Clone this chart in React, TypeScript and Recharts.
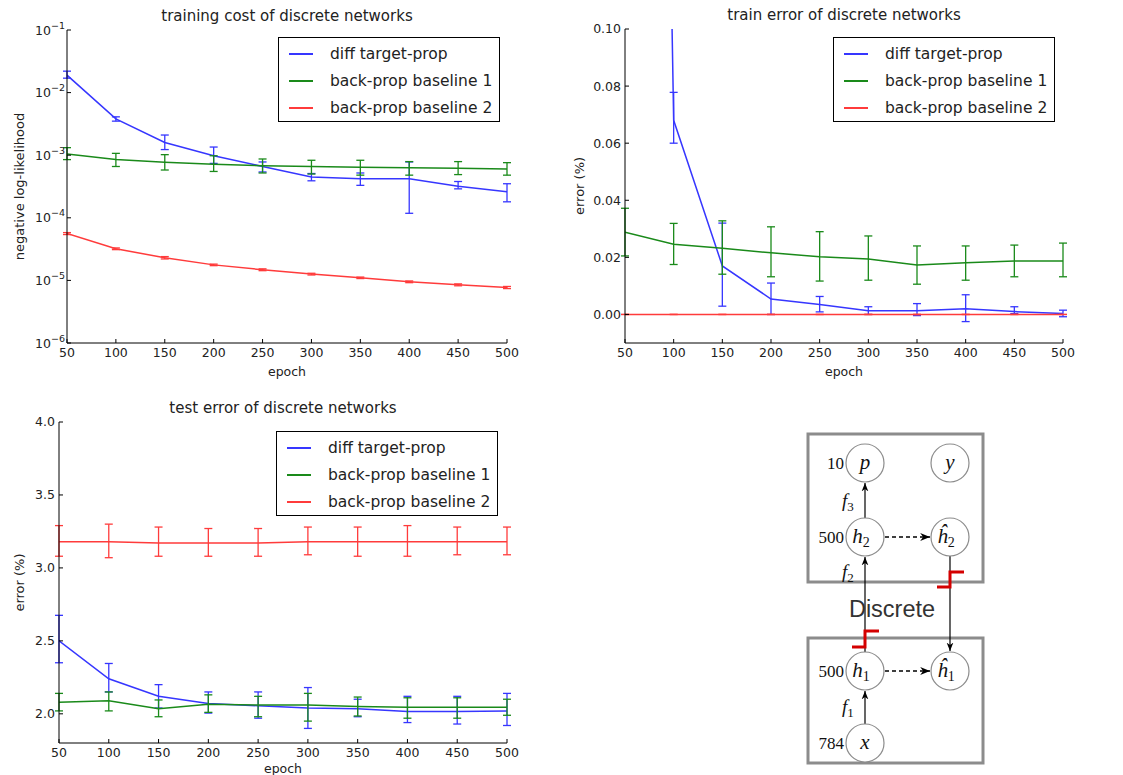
import { LineChart, Line, XAxis, YAxis, ErrorBar } from 'recharts'

const FONT = '"DejaVu Sans", sans-serif'

const epochs = [50, 100, 150, 200, 250, 300, 350, 400, 450, 500]
const seriesNames = ['diff target-prop', 'back-prop baseline 1', 'back-prop baseline 2']
const seriesColors = ['#3636ff', '#1a8a1a', '#ff3b3b']

// training cost (negative log-likelihood, log scale)
const costTarget = [0.019, 0.0038, 0.0016, 0.00098, 0.00066, 0.00045, 0.00042, 0.00042, 0.00032, 0.00026]
const costTargetLo = [0.017, 0.0035, 0.00123, 0.00074, 0.00054, 0.00039, 0.00033, 0.000118, 0.00029, 0.00018]
const costTargetHi = [0.022, 0.0041, 0.0021, 0.00135, 0.00078, 0.00051, 0.00052, 0.00078, 0.00038, 0.00035]
const costB1 = [0.00105, 0.00085, 0.00077, 0.00072, 0.00068, 0.00066, 0.00064, 0.00063, 0.00062, 0.0006]
const costB1Lo = [0.00085, 0.00066, 0.00058, 0.00055, 0.00052, 0.0005, 0.00048, 0.00048, 0.00049, 0.00048]
const costB1Hi = [0.00132, 0.00107, 0.00102, 0.00098, 0.00087, 0.00083, 0.00083, 0.00079, 0.00079, 0.00076]
const costB2 = [5.6e-5, 3.2e-5, 2.3e-5, 1.77e-5, 1.48e-5, 1.26e-5, 1.1e-5, 9.5e-6, 8.5e-6, 7.7e-6]
const costB2Lo = [5.4e-5, 3.1e-5, 2.2e-5, 1.72e-5, 1.43e-5, 1.22e-5, 1.07e-5, 9.2e-6, 8.2e-6, 7.4e-6]
const costB2Hi = [5.8e-5, 3.3e-5, 2.4e-5, 1.82e-5, 1.53e-5, 1.3e-5, 1.13e-5, 9.8e-6, 8.8e-6, 8.0e-6]
const costTicks = [1e-6, 1e-5, 1e-4, 1e-3, 1e-2, 1e-1]
const costMinorTicks = costTicks.slice(0, -1).flatMap((d) => [2, 3, 4, 5, 6, 7, 8, 9].map((m) => m * d))

// train error
const trainTarget = [1.05, 0.068, 0.017, 0.0054, 0.0035, 0.0013, 0.0013, 0.002, 0.001, 0.0003]
const trainTargetLo = [1.05, 0.06, 0.0029, 0.0, 0.0009, 0.0, -0.0004, -0.0025, 0.0003, -0.0008]
const trainTargetHi = [1.05, 0.0778, 0.032, 0.011, 0.0063, 0.0027, 0.0038, 0.0069, 0.0027, 0.0015]
const trainB1 = [0.0288, 0.0246, 0.0232, 0.0216, 0.0202, 0.0194, 0.0173, 0.0181, 0.0187, 0.0187]
const trainB1Lo = [0.0205, 0.0175, 0.0141, 0.0132, 0.0117, 0.012, 0.0106, 0.012, 0.0132, 0.0132]
const trainB1Hi = [0.0372, 0.0319, 0.0328, 0.0307, 0.029, 0.0275, 0.024, 0.024, 0.0243, 0.025]
const trainB2 = [0, 0, 0, 0, 0, 0, 0, 0, 0, 0]
const trainTicks = [0, 0.02, 0.04, 0.06, 0.08, 0.1]

// test error
const testTarget = [2.5, 2.24, 2.12, 2.07, 2.055, 2.04, 2.035, 2.016, 2.016, 2.02]
const testTargetLo = [2.35, 2.15, 2.04, 2.005, 1.97, 1.9, 1.98, 1.94, 1.93, 1.92]
const testTargetHi = [2.675, 2.345, 2.2, 2.15, 2.15, 2.18, 2.1, 2.12, 2.12, 2.14]
const testB1 = [2.08, 2.09, 2.035, 2.065, 2.06, 2.06, 2.05, 2.045, 2.045, 2.045]
const testB1Lo = [2.02, 2.02, 1.98, 2.01, 1.98, 1.95, 1.985, 1.97, 1.97, 1.99]
const testB1Hi = [2.14, 2.15, 2.095, 2.13, 2.12, 2.14, 2.115, 2.11, 2.11, 2.1]
const testB2 = [3.18, 3.18, 3.17, 3.17, 3.17, 3.18, 3.18, 3.18, 3.18, 3.18]
const testB2Lo = [3.08, 3.07, 3.08, 3.08, 3.08, 3.09, 3.08, 3.08, 3.09, 3.09]
const testB2Hi = [3.29, 3.3, 3.28, 3.27, 3.27, 3.28, 3.28, 3.29, 3.28, 3.28]
const testTicks = [2.0, 2.5, 3.0, 3.5, 4.0]

type Series = { values: number[]; lo: number[]; hi: number[] }

function buildRows(series: Series[]) {
  return epochs.map((epoch, i) => {
    const row: Record<string, any> = { epoch }
    series.forEach((s, k) => {
      row[`s${k}`] = s.values[i]
      row[`e${k}`] = [s.values[i] - s.lo[i], s.hi[i] - s.values[i]]
    })
    return row
  })
}

function LogTick(props: any) {
  const { x, y, payload } = props
  const exp = Math.round(Math.log10(payload.value))
  return (
    <text x={x} y={y + 4.5} textAnchor="end" fontSize={12.5} fill="#222" fontFamily={FONT}>
      10
      <tspan dy={-6} fontSize={9.5}>
        {exp < 0 ? '\u2212' + Math.abs(exp) : String(exp)}
      </tspan>
    </text>
  )
}

const Y_W = 70
const TOP = 34
const X_H = 40
const PAD = 12

interface PanelProps {
  plot: { x: number; y: number; w: number; h: number }
  title: string
  yLabel: string
  yLabelGap: number
  series: Series[]
  domain: [number, number]
  ticks: number[]
  log?: boolean
  fmt?: (v: number) => string
  tickGap: number
  legendInset: number
  xLabelOffset: number
}

function Panel(p: PanelProps) {
  const rows = buildRows(p.series)
  const W = p.plot.w + Y_W + PAD
  const H = p.plot.h + TOP + X_H + PAD
  const axisStroke = { stroke: '#000' }
  const tickStyle = { fontSize: 12.5, fill: '#222', fontFamily: FONT }
  return (
    <>
      <div
        style={{
          position: 'absolute',
          left: p.plot.x,
          top: p.plot.y - 23,
          width: p.plot.w,
          textAlign: 'center',
          fontFamily: FONT,
          fontSize: 15,
          lineHeight: '18px',
          color: '#222',
        }}
      >
        {p.title}
      </div>
      <div style={{ position: 'absolute', left: p.plot.x - Y_W, top: p.plot.y - TOP }}>
        <LineChart width={W} height={H} data={rows} margin={{ top: TOP, right: PAD, bottom: PAD, left: 0 }}>
          <XAxis
            xAxisId="b"
            dataKey="epoch"
            type="number"
            domain={[50, 500]}
            ticks={epochs}
            interval={0}
            allowDataOverflow
            height={X_H}
            tickSize={-4}
            tickMargin={9}
            axisLine={axisStroke}
            tickLine={axisStroke}
            tick={tickStyle}
            label={{
              value: 'epoch',
              position: 'insideTop',
              offset: p.xLabelOffset,
              style: { fontSize: 12.5, fill: '#222', fontFamily: FONT },
            }}
          />
          <XAxis
            xAxisId="t"
            orientation="top"
            dataKey="epoch"
            type="number"
            domain={[50, 500]}
            ticks={epochs}
            interval={0}
            allowDataOverflow
            height={0}
            tickSize={-4}
            tick={false}
            axisLine={axisStroke}
            tickLine={axisStroke}
          />
          {p.log && (
            <YAxis
              yAxisId="lm"
              type="number"
              scale="log"
              domain={p.domain}
              ticks={costMinorTicks}
              interval={0}
              allowDataOverflow
              width={0}
              tickSize={-2}
              tick={false}
              axisLine={false}
              tickLine={axisStroke}
            />
          )}
          <YAxis
            yAxisId="l"
            type="number"
            scale={p.log ? 'log' : 'linear'}
            domain={p.domain}
            ticks={p.ticks}
            interval={0}
            allowDataOverflow
            width={Y_W}
            tickSize={-4}
            tickMargin={p.tickGap}
            axisLine={axisStroke}
            tickLine={axisStroke}
            tick={p.log ? <LogTick /> : tickStyle}
            tickFormatter={p.fmt}
            label={{
              content: (lp: any) => {
                const vb = lp.viewBox
                const cx = vb.x + vb.width - p.yLabelGap
                const cy = vb.y + vb.height / 2
                return (
                  <text
                    x={cx}
                    y={cy}
                    transform={`rotate(-90 ${cx} ${cy})`}
                    textAnchor="middle"
                    dominantBaseline="central"
                    fontSize={13}
                    fill="#222"
                    fontFamily={FONT}
                  >
                    {p.yLabel}
                  </text>
                )
              },
            }}
          />
          {p.log && (
            <YAxis
              yAxisId="rm"
              orientation="right"
              type="number"
              scale="log"
              domain={p.domain}
              ticks={costMinorTicks}
              interval={0}
              allowDataOverflow
              width={0}
              tickSize={-2}
              tick={false}
              axisLine={false}
              tickLine={axisStroke}
            />
          )}
          <YAxis
            yAxisId="r"
            orientation="right"
            type="number"
            scale={p.log ? 'log' : 'linear'}
            domain={p.domain}
            ticks={p.ticks}
            interval={0}
            allowDataOverflow
            width={0}
            tickSize={-4}
            tick={false}
            axisLine={axisStroke}
            tickLine={axisStroke}
          />
          {p.series.map((s, k) => (
            <Line
              key={k}
              xAxisId="b"
              yAxisId="l"
              type="linear"
              dataKey={`s${k}`}
              name={seriesNames[k]}
              stroke={seriesColors[k]}
              strokeWidth={1.5}
              dot={false}
              activeDot={false}
              isAnimationActive={false}
            >
              <ErrorBar
                dataKey={`e${k}`}
                direction="y"
                width={4}
                stroke={seriesColors[k]}
                strokeWidth={1.3}
                isAnimationActive={false}
              />
            </Line>
          ))}
        </LineChart>
      </div>
      <div
        style={{
          position: 'absolute',
          left: p.plot.x + p.plot.w - p.legendInset - 222,
          top: p.plot.y + p.legendInset,
          width: 220,
          height: 83,
          border: '1px solid #000',
          background: '#fff',
          fontFamily: FONT,
          fontSize: 15.5,
          color: '#222',
        }}
      >
        {seriesNames.map((n, k) => (
          <div key={n} style={{ position: 'absolute', left: 0, top: 6 + k * 27, height: 20, width: 220 }}>
            <div
              style={{
                position: 'absolute',
                left: 10,
                top: 9,
                width: 24,
                height: 2,
                background: seriesColors[k],
              }}
            />
            <div style={{ position: 'absolute', left: 51, top: 0, lineHeight: '20px', whiteSpace: 'nowrap' }}>{n}</div>
          </div>
        ))}
      </div>
    </>
  )
}

function Diagram() {
  const serif = '"Liberation Serif", "DejaVu Serif", serif'
  const r = 19
  const nodes = [
    { cx: 85, cy: 43, t: 'p', s: '' },
    { cx: 170, cy: 43, t: 'y', s: '' },
    { cx: 85, cy: 117, t: 'h', s: '2' },
    { cx: 170, cy: 117, t: '\u0125', s: '2' },
    { cx: 85, cy: 251, t: 'h', s: '1' },
    { cx: 170, cy: 251, t: '\u0125', s: '1' },
    { cx: 85, cy: 323, t: 'x', s: '' },
  ]
  const sizes = [
    { y: 43, t: '10' },
    { y: 117, t: '500' },
    { y: 251, t: '500' },
    { y: 323, t: '784' },
  ]
  const fs = [
    { y: 82, s: '3' },
    { y: 153, s: '2' },
    { y: 288, s: '1' },
  ]
  return (
    <svg style={{ position: 'absolute', left: 780, top: 420 }} width={220} height={355}>
      <defs>
        <marker id="ah" viewBox="0 0 10 10" refX="10" refY="5" markerWidth="7" markerHeight="7" orient="auto">
          <path d="M0,1 L10,5 L0,9 L3,5 z" fill="#000" />
        </marker>
      </defs>
      <rect x={28} y={14} width={175} height={148} fill="none" stroke="#8c8c8c" strokeWidth={3} />
      <rect x={28} y={218} width={175} height={125} fill="none" stroke="#8c8c8c" strokeWidth={3} />
      <line x1={85} y1={98} x2={85} y2={63} stroke="#000" strokeWidth={1.2} markerEnd="url(#ah)" />
      <line x1={85} y1={232} x2={85} y2={137} stroke="#000" strokeWidth={1.2} markerEnd="url(#ah)" />
      <line x1={85} y1={304} x2={85} y2={271} stroke="#000" strokeWidth={1.2} markerEnd="url(#ah)" />
      <line x1={170} y1={136} x2={170} y2={231} stroke="#000" strokeWidth={1.2} markerEnd="url(#ah)" />
      <line x1={105} y1={117} x2={150} y2={117} stroke="#000" strokeWidth={1.4} strokeDasharray="4 3" markerEnd="url(#ah)" />
      <line x1={105} y1={251} x2={150} y2={251} stroke="#000" strokeWidth={1.4} strokeDasharray="4 3" markerEnd="url(#ah)" />
      <polyline points="72,227 85,227 85,211 99,211" fill="none" stroke="#d40000" strokeWidth={3} />
      <polyline points="157,167 170,167 170,152 184,152" fill="none" stroke="#d40000" strokeWidth={3} />
      {nodes.map((n, i) => (
        <g key={i}>
          <circle cx={n.cx} cy={n.cy} r={r} fill="#fff" stroke="#8c8c8c" strokeWidth={1.2} />
          <text
            x={n.s ? n.cx - 4 : n.cx}
            y={n.cy + 6}
            textAnchor="middle"
            fontFamily={serif}
            fontStyle="italic"
            fontSize={21}
            fill="#111"
          >
            {n.t}
            {n.s && (
              <tspan dy={4} fontSize={14} fontStyle="normal">
                {n.s}
              </tspan>
            )}
          </text>
        </g>
      ))}
      {sizes.map((s, i) => (
        <text key={i} x={64} y={s.y + 6} textAnchor="end" fontFamily={serif} fontSize={17} fill="#111">
          {s.t}
        </text>
      ))}
      {fs.map((f, i) => (
        <text key={i} x={62} y={f.y + 5} fontFamily={serif} fontStyle="italic" fontSize={19} fill="#111">
          f
          <tspan dy={4} fontSize={13} fontStyle="normal">
            {f.s}
          </tspan>
        </text>
      ))}
      <text
        x={112}
        y={197}
        textAnchor="middle"
        fontFamily='"Liberation Sans", Lato, sans-serif'
        fontSize={23.5}
        fontWeight={300}
        fill="#333"
      >
        Discrete
      </text>
    </svg>
  )
}

export default function App() {
  return (
    <div
      style={{
        position: 'absolute',
        left: 0,
        top: 0,
        width: 1123,
        height: 775,
        overflow: 'hidden',
        background: '#fff',
      }}
    >
      <Panel
        plot={{ x: 67, y: 30, w: 440, h: 313 }}
        title="training cost of discrete networks"
        yLabel="negative log-likelihood"
        yLabelGap={48}
        series={[
          { values: costTarget, lo: costTargetLo, hi: costTargetHi },
          { values: costB1, lo: costB1Lo, hi: costB1Hi },
          { values: costB2, lo: costB2Lo, hi: costB2Hi },
        ]}
        domain={[1e-6, 1e-1]}
        ticks={costTicks}
        log
        tickGap={6}
        legendInset={7}
        xLabelOffset={24}
      />
      <Panel
        plot={{ x: 625, y: 29, w: 438, h: 314 }}
        title="train error of discrete networks"
        yLabel="error (%)"
        yLabelGap={46}
        series={[
          { values: trainTarget, lo: trainTargetLo, hi: trainTargetHi },
          { values: trainB1, lo: trainB1Lo, hi: trainB1Hi },
          { values: trainB2, lo: trainB2, hi: trainB2 },
        ]}
        domain={[-0.01, 0.1]}
        ticks={trainTicks}
        fmt={(v) => v.toFixed(2)}
        tickGap={8}
        legendInset={8}
        xLabelOffset={24}
      />
      <Panel
        plot={{ x: 59, y: 422, w: 448, h: 321 }}
        title="test error of discrete networks"
        yLabel="error (%)"
        yLabelGap={40}
        series={[
          { values: testTarget, lo: testTargetLo, hi: testTargetHi },
          { values: testB1, lo: testB1Lo, hi: testB1Hi },
          { values: testB2, lo: testB2Lo, hi: testB2Hi },
        ]}
        domain={[1.8, 4.0]}
        ticks={testTicks}
        fmt={(v) => v.toFixed(1)}
        tickGap={8}
        legendInset={9}
        xLabelOffset={21}
      />
      <Diagram />
    </div>
  )
}
